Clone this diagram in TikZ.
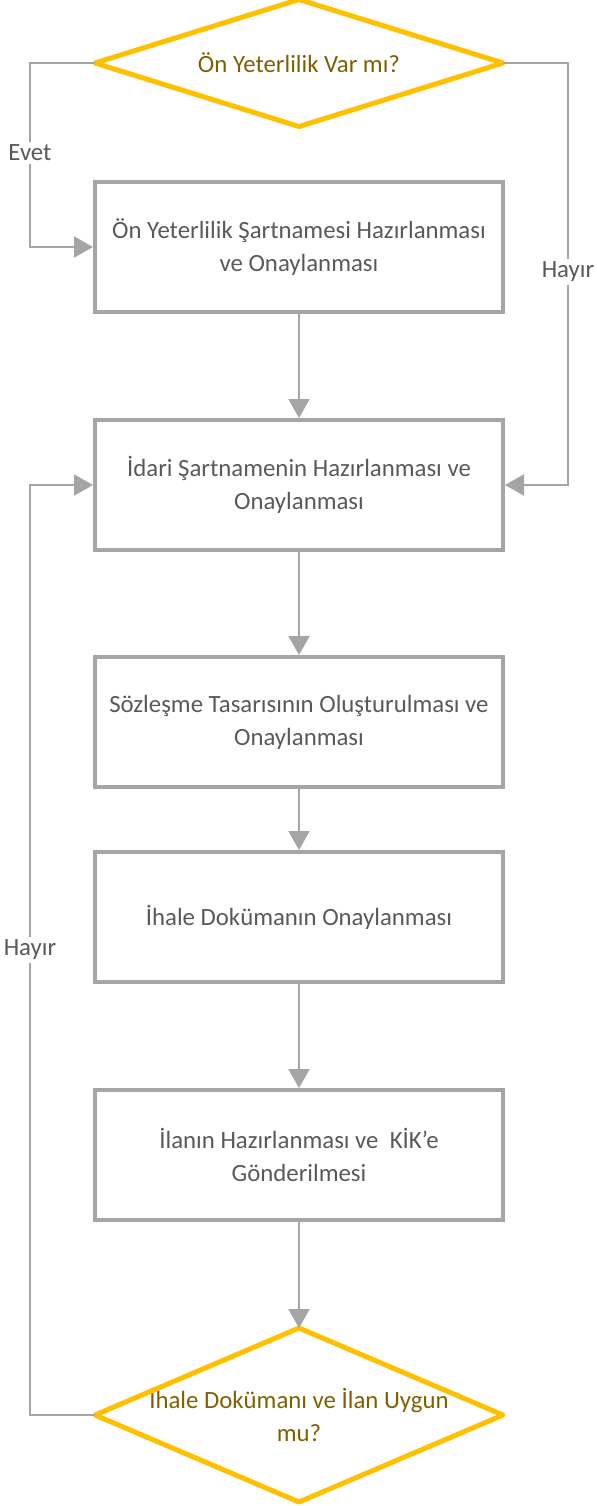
\documentclass[tikz,border=0pt]{standalone}
\usepackage{fontspec}
\setmainfont{Carlito}
\usetikzlibrary{arrows.meta}
\definecolor{linegray}{HTML}{A5A5A5}
\definecolor{textgray}{HTML}{595959}
\definecolor{gold}{HTML}{FFC000}
\definecolor{olive}{HTML}{7F6000}
\begin{document}
\begin{tikzpicture}[x=0.5pt, y=-0.5pt, font=\fontsize{12.4}{16.5}\selectfont,
    main/.style = {draw = linegray, rectangle, line width=2pt, minimum width=204pt, minimum height=65pt, text=textgray, align=center, inner sep=0pt},
    decision/.style = {rectangle, minimum width=204pt, text=olive, align=center, inner sep=0pt, outer sep=0pt},
    rim/.style = {draw = gold, line width=2.5pt, line join=round},
    link/.style = {draw = linegray, line width=1pt, -{Triangle[length=9.5pt, width=10.5pt]}},
    label/.style = {fill=white, text=textgray, inner sep=1.5pt}
    ]
    \useasboundingbox (0,0) rectangle (597,1506);

    \node[decision, minimum height=63.5pt] (0) at (299, 63) {Ön Yeterlilik Var mı?};
    \node[main] (1) at (299, 247) {Ön Yeterlilik Şartnamesi Hazırlanması\\ve Onaylanması};
    \node[main] (2) at (299, 485) {İdari Şartnamenin Hazırlanması ve\\Onaylanması};
    \node[main] (3) at (299, 722) {Sözleşme Tasarısının Oluşturulması ve\\Onaylanması};
    \node[main] (4) at (299, 917) {İhale Dokümanın Onaylanması};
    \node[main] (5) at (299, 1155) {İlanın Hazırlanması ve \ KİK’e\\Gönderilmesi};
    \node[decision, minimum height=87pt] (6) at (299, 1415) {İhale Dokümanı ve İlan Uygun\\mu?};

    % diamond outlines
    \draw[rim] (0.north) -- (0.east) -- (0.south) -- (0.west) -- cycle;
    \draw[rim] (6.north) -- (6.east) -- (6.south) -- (6.west) -- cycle;

    \draw[link] (1) -- (2);
    \draw[link] (2) -- (3);
    \draw[link] (3) -- (4);
    \draw[link] (4) -- (5);
    \draw[link] (5) -- (6.north);

    \draw[link] (0.west) -| (30, 153) node[label] {Evet} |- (1.west);
    \draw[link] (0.east) -| (568, 272) node[label] {Hayır} |- (2.east);
    \draw[link] (6.west) -| (30, 950) node[label] {Hayır} |- (2.west);

\end{tikzpicture}
\end{document}
